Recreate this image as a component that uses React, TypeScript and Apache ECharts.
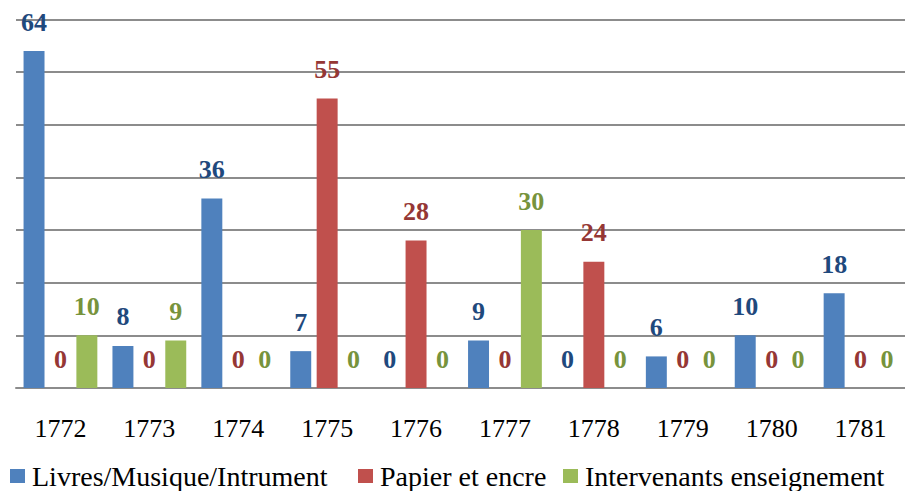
import React, { useEffect, useRef } from "react";
import * as echarts from "echarts";

const years = ["1772", "1773", "1774", "1775", "1776", "1777", "1778", "1779", "1780", "1781"];
const livres = [64, 8, 36, 7, 0, 9, 0, 6, 10, 18];
const papier = [0, 0, 0, 55, 28, 0, 24, 0, 0, 0];
const intervenants = [10, 9, 0, 0, 0, 30, 0, 0, 0, 0];
const seriesNames = ["Livres/Musique/Intrument", "Papier et encre", "Intervenants enseignement"];
const legendLefts = [10, 358, 563];

const FONT = "Liberation Serif";

export default function App() {
  const ref = useRef<HTMLDivElement>(null);
  useEffect(() => {
    if (!ref.current) return;
    const chart = echarts.init(ref.current, null, { renderer: "svg" });
    const mk = (name: string, data: number[], color: string, labelColor: string) => ({
      name,
      type: "bar",
      data,
      barGap: "26%",
      barCategoryGap: "17%",
      itemStyle: { color },
      label: {
        show: true,
        position: "top",
        distance: 16,
        color: labelColor,
        fontFamily: FONT,
        fontWeight: "bold",
        fontSize: 26,
      },
    });
    chart.setOption({
      animation: false,
      grid: { left: 16, right: 0, top: 19.5, bottom: 103, containLabel: false },
      legend: seriesNames.map((n, i) => ({
        top: 462,
        left: legendLefts[i],
        itemWidth: 15,
        itemHeight: 14,
        icon: "rect",
        padding: 0,
        textStyle: { fontFamily: FONT, fontSize: 28, color: "#000", padding: [0, 0, 0, 2] },
        data: [n],
      })),
      xAxis: {
        type: "category",
        data: years,
        axisTick: { show: false },
        axisLine: { lineStyle: { color: "#8c8c8c", width: 2 } },
        axisLabel: { fontFamily: FONT, fontSize: 26, color: "#000", margin: 27 },
      },
      yAxis: {
        type: "value",
        min: 0,
        max: 70,
        interval: 10,
        axisLabel: { show: false },
        axisLine: { show: false },
        axisTick: { show: false },
        splitLine: { lineStyle: { color: "#8c8c8c", width: 2 } },
      },
      series: [
        mk(seriesNames[0], livres, "#4F81BD", "#1F497D"),
        mk(seriesNames[1], papier, "#C0504D", "#953735"),
        mk(seriesNames[2], intervenants, "#9BBB59", "#77933C"),
      ],
    });
    return () => chart.dispose();
  }, []);
  return <div ref={ref} style={{ width: 905, height: 491, position: "absolute", left: 0, top: 0 }} />;
}
